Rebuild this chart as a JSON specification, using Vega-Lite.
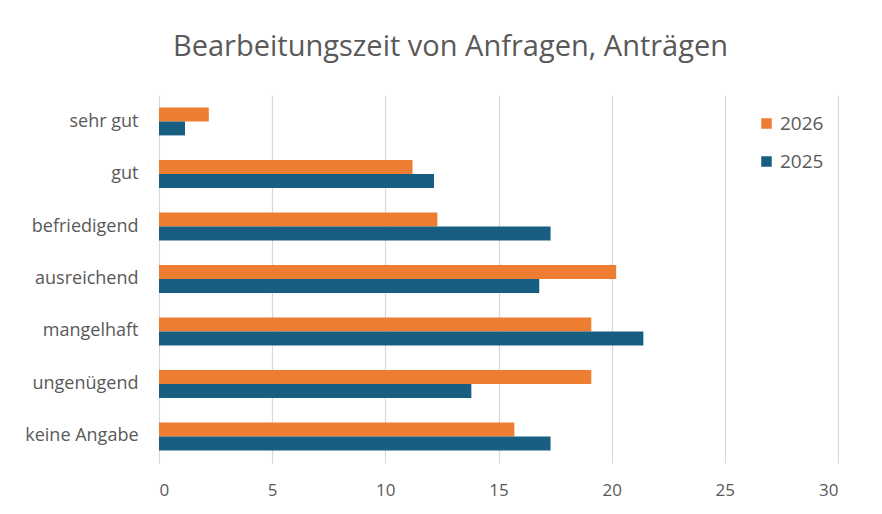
{
  "$schema": "https://vega.github.io/schema/vega-lite/v6.json",
  "autosize": {"type": "none"},
  "padding": {"left": 159, "top": 95, "right": 44, "bottom": 51},
  "width": 679,
  "height": 368,
  "background": "white",
  "title": {
    "text": "Bearbeitungszeit von Anfragen, Anträgen",
    "font": "Open Sans",
    "fontSize": 29,
    "fontWeight": "normal",
    "color": "#595959",
    "anchor": "middle",
    "frame": "group",
    "dx": -48,
    "offset": 33
  },
  "data": {
    "values": [
      {"kategorie": "sehr gut", "jahr": "2026", "wert": 2.2},
      {"kategorie": "sehr gut", "jahr": "2025", "wert": 1.15},
      {"kategorie": "gut", "jahr": "2026", "wert": 11.2},
      {"kategorie": "gut", "jahr": "2025", "wert": 12.15},
      {"kategorie": "befriedigend", "jahr": "2026", "wert": 12.3},
      {"kategorie": "befriedigend", "jahr": "2025", "wert": 17.3},
      {"kategorie": "ausreichend", "jahr": "2026", "wert": 20.2},
      {"kategorie": "ausreichend", "jahr": "2025", "wert": 16.8},
      {"kategorie": "mangelhaft", "jahr": "2026", "wert": 19.1},
      {"kategorie": "mangelhaft", "jahr": "2025", "wert": 21.4},
      {"kategorie": "ungenügend", "jahr": "2026", "wert": 19.1},
      {"kategorie": "ungenügend", "jahr": "2025", "wert": 13.8},
      {"kategorie": "keine Angabe", "jahr": "2026", "wert": 15.7},
      {"kategorie": "keine Angabe", "jahr": "2025", "wert": 17.3}
    ]
  },
  "mark": {"type": "bar"},
  "encoding": {
    "y": {
      "field": "kategorie",
      "type": "nominal",
      "sort": ["sehr gut", "gut", "befriedigend", "ausreichend", "mangelhaft", "ungenügend", "keine Angabe"],
      "scale": {"paddingInner": 0.47, "paddingOuter": 0.24},
      "axis": {
        "title": null,
        "domain": false,
        "ticks": false,
        "grid": false,
        "labelFont": "Open Sans",
        "labelFontSize": 18,
        "labelColor": "#595959",
        "labelPadding": 21
      }
    },
    "yOffset": {
      "field": "jahr",
      "type": "nominal",
      "scale": {"domain": ["2026", "2025"], "paddingInner": 0}
    },
    "x": {
      "field": "wert",
      "type": "quantitative",
      "scale": {"domain": [0, 30], "nice": false},
      "axis": {
        "title": null,
        "values": [0, 5, 10, 15, 20, 25, 30],
        "domain": false,
        "ticks": false,
        "grid": true,
        "gridColor": "#D9D9D9",
        "gridWidth": 1.2,
        "labelFont": "Open Sans",
        "labelFontSize": 17,
        "labelColor": "#595959",
        "labelPadding": 19
      }
    },
    "color": {
      "field": "jahr",
      "type": "nominal",
      "scale": {"domain": ["2026", "2025"], "range": ["#ED7D31", "#175E80"]},
      "legend": {
        "title": null,
        "orient": "none",
        "legendX": 598,
        "legendY": 19,
        "symbolType": "square",
        "symbolSize": 110,
        "labelFont": "Open Sans",
        "labelFontSize": 19,
        "labelColor": "#595959",
        "rowPadding": 18,
        "labelOffset": 4
      }
    }
  },
  "config": {"view": {"stroke": null}}
}
